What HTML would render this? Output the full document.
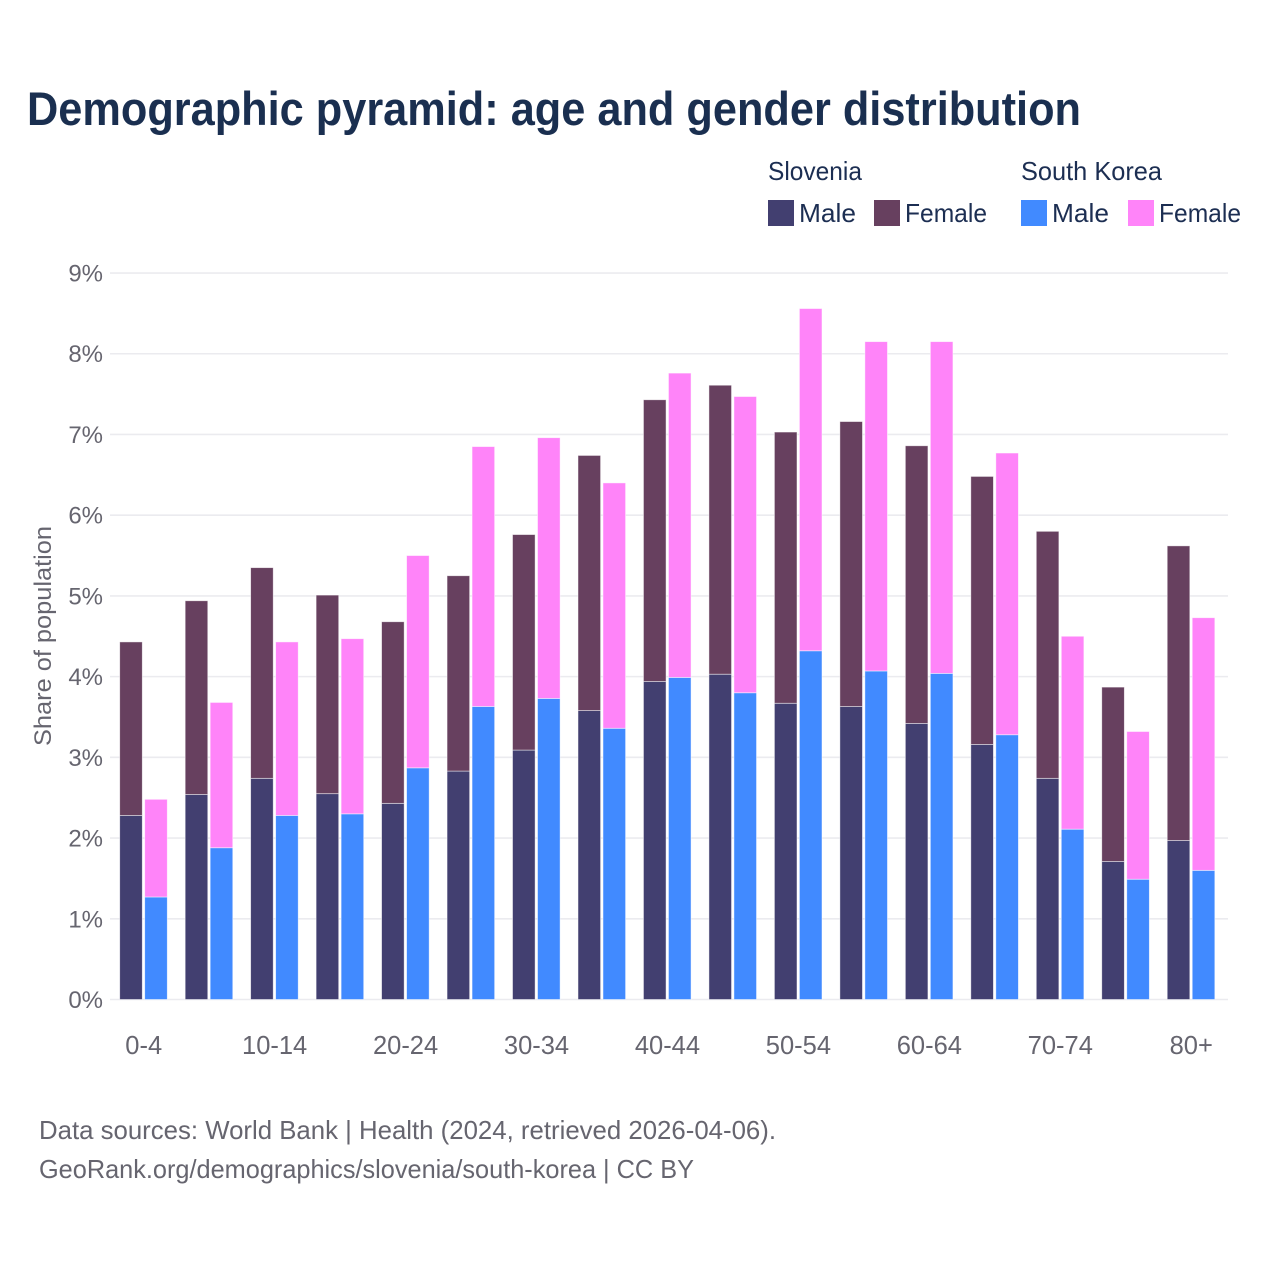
<!DOCTYPE html>
<html lang="en">
<head>
<meta charset="utf-8">
<title>Demographic pyramid: age and gender distribution</title>
<style>
  html, body { margin: 0; padding: 0; background: #ffffff; }
  svg { display: block; font-family: "Liberation Sans", sans-serif; }
</style>
</head>
<body>
<svg id="chart" xmlns="http://www.w3.org/2000/svg" width="1280" height="1280" viewBox="0 0 1280 1280">
  <rect x="0" y="0" width="1280" height="1280" fill="#ffffff"/>
  <text x="27" y="125" font-size="47" font-weight="700" fill="#1a2f50" textLength="1054" lengthAdjust="spacingAndGlyphs">Demographic pyramid: age and gender distribution</text>

  <g font-size="26" fill="#1c2e52">
    <text x="768" y="180" textLength="94" lengthAdjust="spacingAndGlyphs">Slovenia</text>
    <text x="1021" y="180" textLength="141" lengthAdjust="spacingAndGlyphs">South Korea</text>
    <rect x="768" y="200" width="26" height="26" fill="#423f70"/>
    <text x="799" y="222" textLength="57" lengthAdjust="spacingAndGlyphs">Male</text>
    <rect x="874" y="200" width="26" height="26" fill="#67405f"/>
    <text x="905" y="222" textLength="82" lengthAdjust="spacingAndGlyphs">Female</text>
    <rect x="1021" y="200" width="26" height="26" fill="#418aff"/>
    <text x="1052" y="222" textLength="57" lengthAdjust="spacingAndGlyphs">Male</text>
    <rect x="1128" y="200" width="26" height="26" fill="#ff84f9"/>
    <text x="1159" y="222" textLength="82" lengthAdjust="spacingAndGlyphs">Female</text>
  </g>

  <g id="grid"></g>
  <g id="yticks"></g>
  <g id="bars"></g>
  <g id="xticks"></g>

  <text transform="translate(51 636) rotate(-90)" text-anchor="middle" font-size="24" fill="#66656f" textLength="220" lengthAdjust="spacingAndGlyphs">Share of population</text>

  <text x="39" y="1139" font-size="26" fill="#66656f" textLength="737" lengthAdjust="spacingAndGlyphs">Data sources: World Bank | Health (2024, retrieved 2026-04-06).</text>
  <text x="39" y="1178" font-size="26" fill="#66656f" textLength="655" lengthAdjust="spacingAndGlyphs">GeoRank.org/demographics/slovenia/south-korea | CC BY</text>
</svg>
<script>
const categories = ['0-4','5-9','10-14','15-19','20-24','25-29','30-34','35-39','40-44','45-49','50-54','55-59','60-64','65-69','70-74','75-79','80+'];
const sloveniaMale = [2.28,2.54,2.74,2.55,2.43,2.83,3.09,3.58,3.94,4.03,3.67,3.63,3.42,3.16,2.74,1.71,1.97];
const sloveniaFemale = [2.15,2.40,2.61,2.46,2.25,2.42,2.67,3.16,3.49,3.58,3.36,3.53,3.44,3.32,3.06,2.16,3.65];
const koreaMale = [1.27,1.88,2.28,2.30,2.87,3.63,3.73,3.36,3.99,3.80,4.32,4.07,4.04,3.28,2.11,1.49,1.60];
const koreaFemale = [1.21,1.80,2.15,2.17,2.63,3.22,3.23,3.04,3.77,3.67,4.24,4.08,4.11,3.49,2.39,1.83,3.13];
const yTicks = [0,1,2,3,4,5,6,7,8,9];

const NS = 'http://www.w3.org/2000/svg';
const yScale = v => 999.5 - v * 80.72;
const xCenter = i => 143.7 + i * 65.47;

const gridGroup = document.getElementById('grid');
const yTickGroup = document.getElementById('yticks');
const barGroup = document.getElementById('bars');
const xTickGroup = document.getElementById('xticks');

yTicks.forEach(t => {
  const line = document.createElementNS(NS, 'line');
  
  
  line.setAttribute('x1', 110);
  line.setAttribute('x2', 1228);
  line.setAttribute('y1', yScale(t));
  line.setAttribute('y2', yScale(t));
  line.setAttribute('stroke', '#ebebef');
  line.setAttribute('stroke-width', 1.6);
  gridGroup.appendChild(line);

  const label = document.createElementNS(NS, 'text');
  
  
  label.setAttribute('x', 103);
  label.setAttribute('y', yScale(t) + 8.5);
  label.setAttribute('text-anchor', 'end');
  label.setAttribute('font-size', 24);
  label.setAttribute('fill', '#66656f');
  label.textContent = t + '%';
  yTickGroup.appendChild(label);
});

function drawBar(name, left, base, value, color) {
  const rect = document.createElementNS(NS, 'rect');
  
  
  rect.setAttribute('x', left);
  rect.setAttribute('y', yScale(base + value));
  rect.setAttribute('width', 22.6);
  rect.setAttribute('height', yScale(base) - yScale(base + value));
  rect.setAttribute('fill', color);
  rect.setAttribute('stroke', '#ffffff');
  rect.setAttribute('stroke-opacity', 0.6);
  rect.setAttribute('stroke-width', 0.8);
  barGroup.appendChild(rect);
}

categories.forEach((cat, i) => {
  const c = xCenter(i);
  drawBar('bar-slovenia-male', c - 24, 0, sloveniaMale[i], '#423f70');
  drawBar('bar-slovenia-female', c - 24, sloveniaMale[i], sloveniaFemale[i], '#67405f');
  drawBar('bar-south-korea-male', c + 1, 0, koreaMale[i], '#418aff');
  drawBar('bar-south-korea-female', c + 1, koreaMale[i], koreaFemale[i], '#ff84f9');
  if (i % 2 === 0) {
    const label = document.createElementNS(NS, 'text');
    
    
    label.setAttribute('x', c);
    label.setAttribute('y', 1054);
    label.setAttribute('text-anchor', 'middle');
    label.setAttribute('font-size', 25.5);
    label.setAttribute('fill', '#66656f');
    label.textContent = cat;
    xTickGroup.appendChild(label);
  }
});
</script>
</body>
</html>
